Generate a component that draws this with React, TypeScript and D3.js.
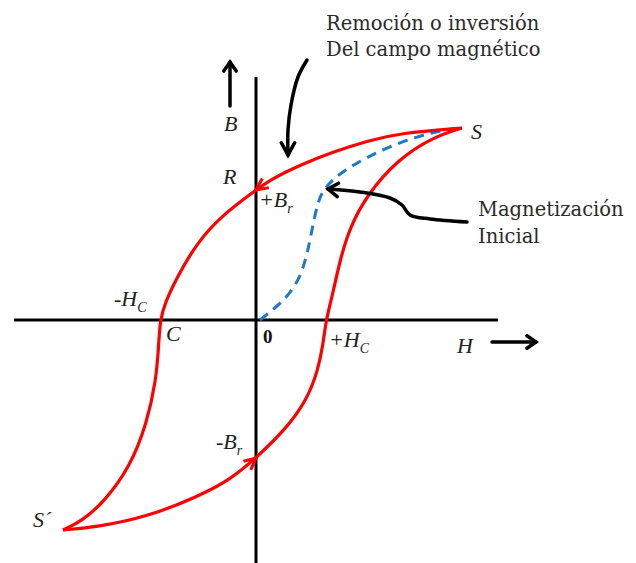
import * as d3 from "d3"

type Pt = [number, number]

// hysteresis loop, H and B in arbitrary units
const upperBranch: Pt[] = [
  [10.3, 9.6], [7.2, 9.35], [5.55, 8.95], [3.85, 8.4], [2.2, 7.75], [0.7, 7.0],
  [0, 6.5], [-1.8, 5.15], [-2.95, 3.85], [-3.95, 2.15], [-4.55, 0.85],
  [-4.8, 0], [-4.88, -1.5], [-5.0, -3.0], [-5.45, -5.15], [-6.3, -7.35],
  [-7.6, -9.1], [-8.7, -10.05], [-9.65, -10.5],
]

const lowerBranch: Pt[] = [
  [-9.65, -10.5], [-7.95, -10.35], [-5.45, -9.85], [-2.95, -8.85], [-1.3, -8.0],
  [0, -6.9], [1.45, -5.5], [2.55, -4.0], [3.1, -2.5], [3.35, -1.25], [3.5, 0],
  [3.85, 1.35], [4.2, 3.0], [4.7, 4.65], [5.55, 6.25], [7.05, 8.0], [8.85, 9.15],
  [10.3, 9.6],
]

const initialCurve: Pt[] = [
  [0.2, 0], [0.95, 0.6], [1.6, 1.2], [2.2, 2.1], [2.55, 3.25], [2.8, 4.5],
  [3.05, 5.75], [3.35, 6.55], [4.2, 7.35], [5.55, 8.15], [7.2, 8.9],
  [8.85, 9.4], [10.1, 9.6],
]

// annotation arrows
const removalArrow: Pt[] = [[2.55, 13.0], [2.1, 12.15], [1.75, 10.75], [1.6, 9.5], [1.6, 8.25]]
const initialArrow: Pt[] = [[10.55, 4.9], [8.7, 5.05], [7.7, 5.25], [7.3, 5.75], [6.7, 6.1], [5.2, 6.4], [3.6, 6.55]]
const bArrow: Pt[] = [[-1.3, 10.7], [-1.3, 12.9]]
const hArrow: Pt[] = [[11.8, -1.1], [14.0, -1.1]]

const noteTop = ["Remoción o inversión", "Del campo magnético"]
const noteRight = ["Magnetización", "Inicial"]

const W = 636
const H = 563
const RED = "#ff0000"
const BLUE = "#1f78c8"

const x = d3.scaleLinear().domain([-12.1, 12.1]).range([14, 498])
const y = d3.scaleLinear().domain([-12.15, 12.15]).range([563, 77])

// smoothing B-spline for the loop (points are hand-read, so a bit noisy)
const loop = d3
  .line<Pt>()
  .x((d) => x(d[0]))
  .y((d) => y(d[1]))
  .curve(d3.curveBasis)

const line = d3
  .line<Pt>()
  .x((d) => x(d[0]))
  .y((d) => y(d[1]))
  .curve(d3.curveCatmullRom.alpha(0.5))

const straight = d3
  .line<Pt>()
  .x((d) => x(d[0]))
  .y((d) => y(d[1]))

// open V head at `tip`, pointing away from `from`
const head = (from: Pt, tip: Pt, len = 12, spread = 0.5) => {
  const tx = x(tip[0])
  const ty = y(tip[1])
  const a = Math.atan2(ty - y(from[1]), tx - x(from[0]))
  const p1 = [tx - len * Math.cos(a - spread), ty - len * Math.sin(a - spread)]
  const p2 = [tx - len * Math.cos(a + spread), ty - len * Math.sin(a + spread)]
  return `M${p1[0]},${p1[1]}L${tx},${ty}L${p2[0]},${p2[1]}`
}

const italic = {
  fontFamily: "'Liberation Serif', serif",
  fontStyle: "italic",
  fontSize: 22,
  fill: "#222",
}

const note = {
  fontFamily: "'DejaVu Serif', serif",
  fontSize: 19.5,
  fill: "#2a2a2a",
}

const App = () => {
  const rIdx = upperBranch.findIndex((d) => d[0] === 0)
  const nIdx = lowerBranch.findIndex((d) => d[0] === 0)
  const last = (a: Pt[]) => a[a.length - 1]

  return (
    <svg
      width={W}
      height={H}
      style={{ position: "absolute", left: 0, top: 0, background: "#fff" }}
    >
      {/* axes */}
      <line x1={x(-12.1)} x2={x(12.1)} y1={y(0)} y2={y(0)} stroke="#000" strokeWidth={3} />
      <line x1={x(0)} x2={x(0)} y1={y(12.15)} y2={y(-12.15)} stroke="#000" strokeWidth={3} />

      {/* curves */}
      <path d={loop(initialCurve) ?? ""} fill="none" stroke={BLUE} strokeWidth={3} strokeDasharray="10 7" />
      <path d={loop(upperBranch) ?? ""} fill="none" stroke={RED} strokeWidth={3.2} />
      <path d={loop(lowerBranch) ?? ""} fill="none" stroke={RED} strokeWidth={3.2} />
      <path d={head(upperBranch[rIdx - 1], upperBranch[rIdx], 13, 0.45)} fill="none" stroke={RED} strokeWidth={3} />
      <path d={head(lowerBranch[nIdx - 1], lowerBranch[nIdx], 13, 0.45)} fill="none" stroke={RED} strokeWidth={3} />

      {/* annotation arrows */}
      <g fill="none" stroke="#000" strokeWidth={3.5} strokeLinecap="round">
        <path d={line(removalArrow) ?? ""} />
        <path d={head(removalArrow[removalArrow.length - 2], last(removalArrow), 14, 0.5)} />
        <path d={line(initialArrow) ?? ""} />
        <path d={head(initialArrow[initialArrow.length - 2], last(initialArrow), 12, 0.6)} />
        <path d={straight(bArrow) ?? ""} />
        <path d={head(bArrow[0], bArrow[1], 11, 0.6)} />
        <path d={straight(hArrow) ?? ""} />
        <path d={head(hArrow[0], hArrow[1], 11, 0.6)} />
      </g>

      {/* notes */}
      <text style={note}>
        <tspan x={326} y={30}>{noteTop[0]}</tspan>
        <tspan x={326} y={56}>{noteTop[1]}</tspan>
      </text>
      <text style={note}>
        <tspan x={478} y={216}>{noteRight[0]}</tspan>
        <tspan x={478} y={243}>{noteRight[1]}</tspan>
      </text>

      {/* point labels */}
      <text style={italic} x={224} y={131}>B</text>
      <text style={italic} x={223} y={184}>R</text>
      <text style={italic} x={471} y={139}>S</text>
      <text style={italic} x={33} y={527}>S´</text>
      <text style={italic} x={457} y={353}>H</text>
      <text style={italic} x={166} y={341}>C</text>
      <text style={italic} x={259} y={207}>
        +B<tspan fontSize={14} dy={6}>r</tspan>
      </text>
      <text style={italic} x={216} y={449}>
        -B<tspan fontSize={14} dy={6}>r</tspan>
      </text>
      <text style={italic} x={114} y={306}>
        -H<tspan fontSize={14} dy={6}>C</tspan>
      </text>
      <text style={italic} x={329} y={347}>
        +H<tspan fontSize={14} dy={6}>C</tspan>
      </text>
      <text
        x={263}
        y={343}
        style={{ fontFamily: "'Liberation Serif', serif", fontWeight: "bold", fontSize: 19, fill: "#111" }}
      >
        0
      </text>
    </svg>
  )
}

export default App
